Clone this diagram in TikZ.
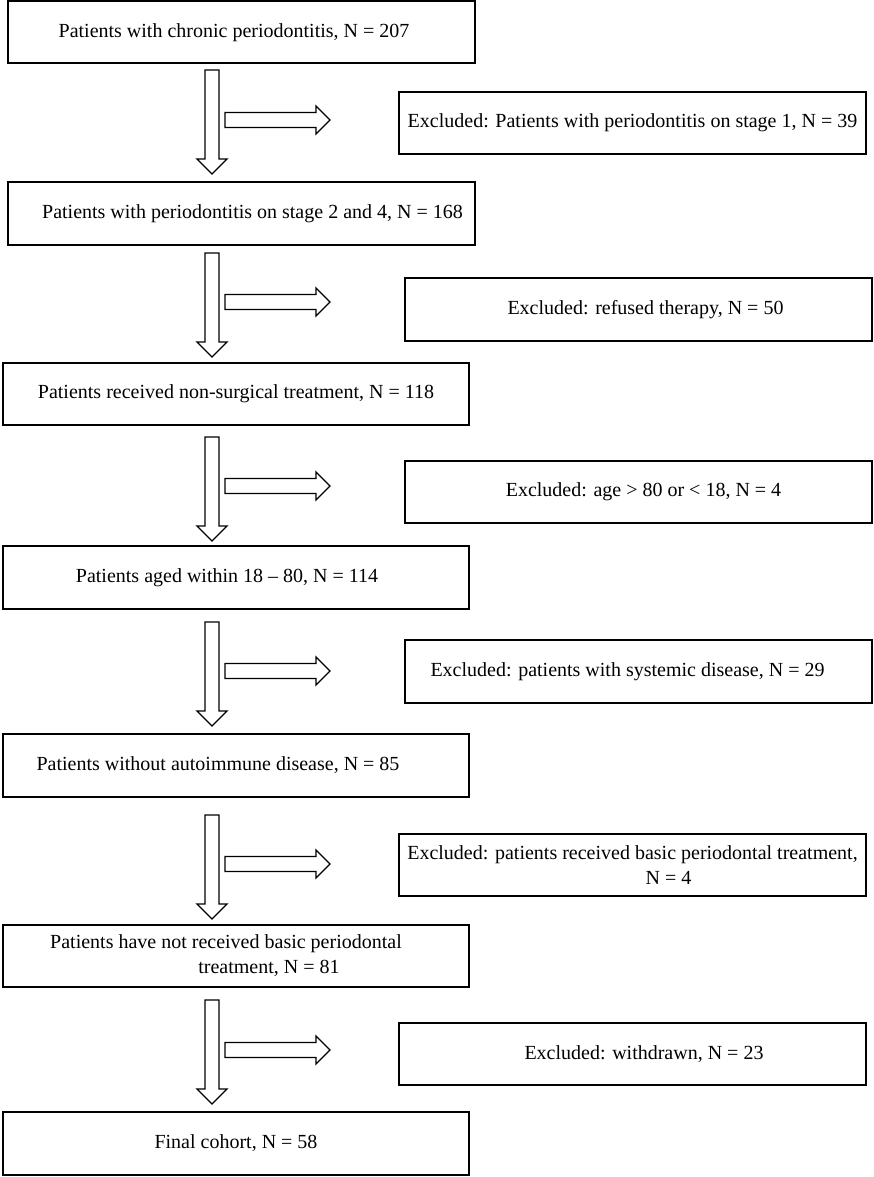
\documentclass[tikz,border=0pt]{standalone}
\usepackage{fontspec}
\setmainfont{Liberation Serif}
\tikzset{
  box/.style={draw=black, line width=2pt, fill=white, minimum width=467pt,
    minimum height=62pt, inner sep=0pt, font=\fontsize{20}{25}\selectfont},
  blk/.style={draw=black, line width=1.3pt, fill=white, line join=miter},
  varr/.pic={\path[blk] (-7,0) -- (-7,89) -- (-15,89) -- (0,104) -- (15,89) -- (7,89) -- (7,0) -- cycle;},
  harr/.pic={\path[blk] (0,-7.5) -- (91,-7.5) -- (91,-14) -- (105,0) -- (91,14) -- (91,7.5) -- (0,7.5) -- cycle;}
}
\begin{document}
\begin{tikzpicture}[x=1pt,y=-1pt]
\useasboundingbox (0,0) rectangle (873,1177);
% main column
\node[box] (b1) at (241.5,32.5) {Patients with chronic periodontitis, N = 207\hspace{15pt}\mbox{}};
\node[box, minimum height=63pt] (b2) at (241.5,213.5) {\hspace*{22pt}Patients with periodontitis on stage 2 and 4, N = 168};
\node[box, minimum width=466pt] (b3) at (236,394) {Patients received non-surgical treatment, N = 118};
\node[box, minimum width=466pt, minimum height=63pt] (b4) at (236,577.5) {Patients aged within 18 -- 80, N = 114\hspace{18pt}\mbox{}};
\node[box, minimum width=466pt, minimum height=63pt] (b5) at (236,765.5) {Patients without autoimmune disease, N = 85\hspace{36pt}\mbox{}};
\node[box, minimum width=466pt, align=center] (b6) at (236,956) {Patients have not received basic periodontal\hspace{20pt}\mbox{}\\\hspace*{66pt}treatment, N = 81};
\node[box, minimum width=466pt, minimum height=63pt] (b7) at (236,1143.5) {Final cohort, N = 58};
% exclusion column
\node[box] (e1) at (632.5,123) {Excluded: Patients with periodontitis on stage 1, N = 39};
\node[box, minimum height=63pt] (e2) at (638,309.5) {\hspace*{15pt}Excluded: refused therapy, N = 50};
\node[box] (e3) at (638,492) {\hspace*{11pt}Excluded: age > 80 or < 18, N = 4};
\node[box, minimum height=63pt] (e4) at (638,671.5) {Excluded: patients with systemic disease, N = 29\hspace{21pt}\mbox{}};
\node[box, align=center] (e5) at (632.5,865) {Excluded: patients received basic periodontal treatment,\\\hspace*{72pt}N = 4};
\node[box] (e6) at (632.5,1054) {\hspace*{23pt}Excluded: withdrawn, N = 23};
% block arrows
\pic at (212,70) {varr};
\pic at (225,120) {harr};
\pic at (212,253) {varr};
\pic at (225,302) {harr};
\pic at (212,437) {varr};
\pic at (225,486) {harr};
\pic at (212,622) {varr};
\pic at (225,671) {harr};
\pic at (212,815) {varr};
\pic at (225,864) {harr};
\pic at (212,1000) {varr};
\pic at (225,1050) {harr};
\end{tikzpicture}
\end{document}
